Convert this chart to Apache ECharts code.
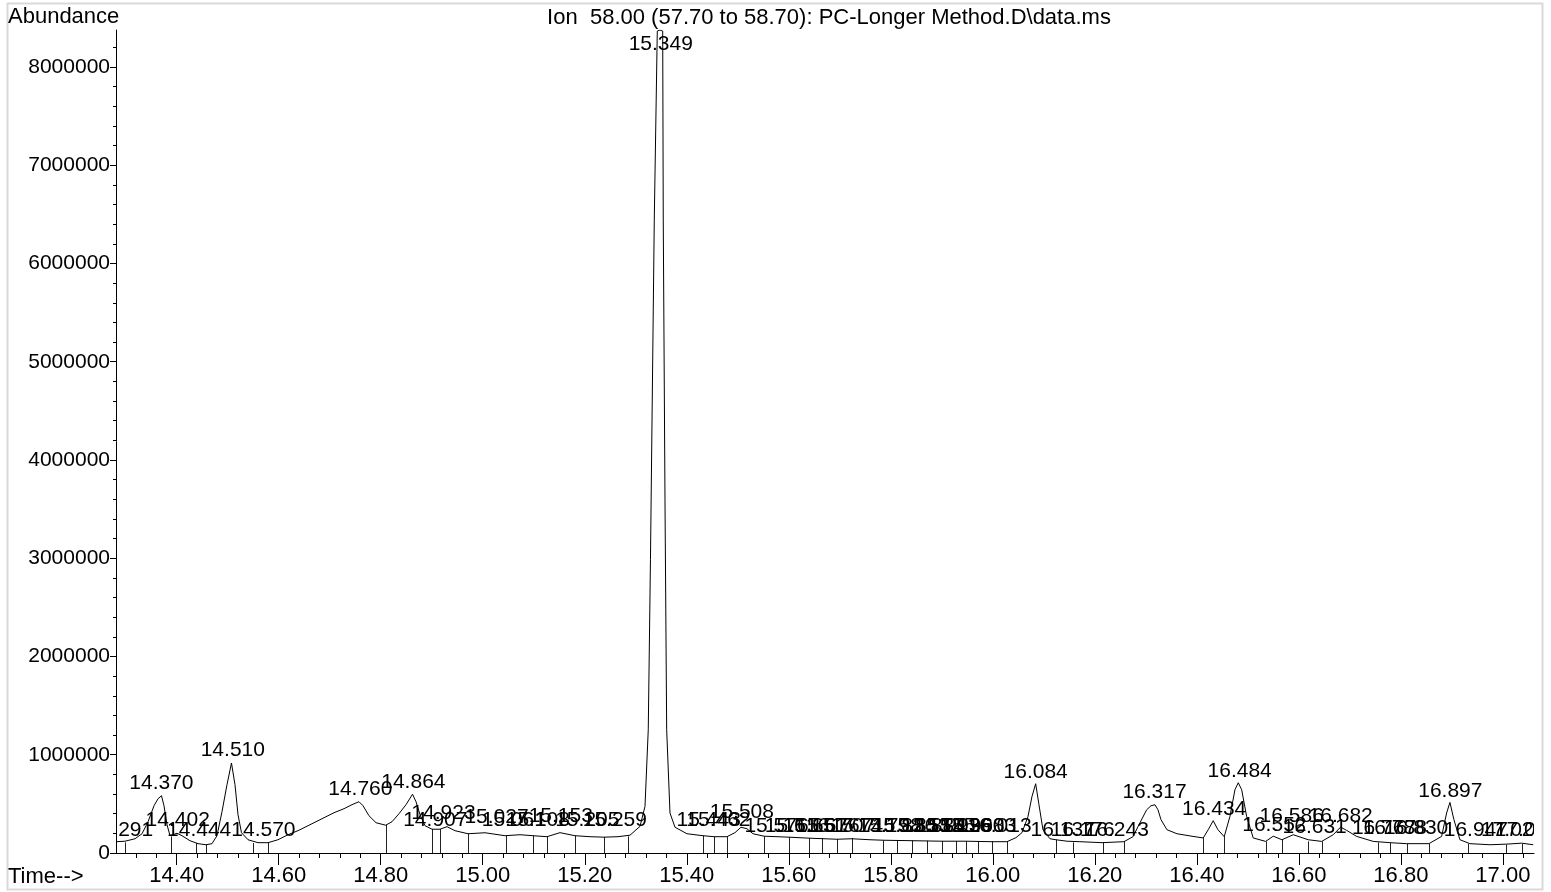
<!DOCTYPE html>
<html><head><meta charset="utf-8">
<script src="https://cdn.jsdelivr.net/npm/echarts@6/dist/echarts.min.js"></script>
<style>html,body{margin:0;padding:0;background:#fff}#c{width:1551px;height:892px}</style>
</head><body><div id="c"></div>
<script>
// ---- data ----
const traceTime = [14.2824,14.2987,14.3183,14.3320,14.3438,14.3555,14.3634,14.3702,14.3751,14.3810,14.3869,14.3908,14.4006,14.4104,14.4261,14.4418,14.4574,14.4692,14.4790,14.4888,14.4986,14.5074,14.5143,14.5202,14.5270,14.5398,14.5594,14.5790,14.5986,14.6182,14.6378,14.6614,14.6849,14.7084,14.7280,14.7437,14.7574,14.7653,14.7770,14.7908,14.8097,14.8221,14.8358,14.8495,14.8623,14.8692,14.8770,14.8868,14.9005,14.9162,14.9299,14.9456,14.9711,15.0044,15.0436,15.0730,15.0985,15.1260,15.1514,15.1808,15.2102,15.2377,15.2651,15.2887,15.3083,15.3181,15.3245,15.3288,15.3363,15.3422,15.3475,15.3528,15.3539,15.3573,15.3606,15.3671,15.3769,15.4004,15.4318,15.4533,15.4788,15.4945,15.5062,15.5180,15.5298,15.5514,15.5769,15.6004,15.6396,15.6945,15.7239,15.7592,15.7847,15.8416,15.9004,15.9474,15.9984,16.0277,16.0454,16.0571,16.0689,16.0767,16.0840,16.0905,16.0983,16.1120,16.1238,16.1453,16.1708,16.2140,16.2571,16.2748,16.2885,16.3016,16.3101,16.3179,16.3238,16.3297,16.3414,16.3610,16.3924,16.4125,16.4223,16.4321,16.4413,16.4537,16.4649,16.4747,16.4812,16.4879,16.4976,16.5106,16.5349,16.5498,16.5668,16.5890,16.6184,16.6447,16.6674,16.6819,16.6937,16.7133,16.7458,16.7785,16.8113,16.8550,16.8799,16.8897,16.8962,16.9040,16.9158,16.9354,16.9746,17.0059,17.0367,17.0594];
const traceAbundance = [115000,120000,145000,196000,318000,481000,552000,583000,481000,288000,176000,166000,201000,176000,125000,95000,84000,95000,176000,420000,695000,916000,695000,390000,207000,135000,105000,105000,135000,186000,227000,288000,349000,410000,451000,492000,522000,481000,379000,308000,283000,318000,400000,491000,598000,522000,390000,278000,242000,242000,268000,227000,196000,206000,176000,186000,176000,166000,207000,176000,166000,161000,166000,181000,271000,474000,1254000,2984000,6443000,8365000,8376000,8365000,6443000,3594000,1254000,407000,262000,196000,176000,166000,166000,207000,262000,247000,196000,171000,166000,161000,151000,140000,145000,135000,130000,125000,120000,120000,115000,115000,156000,207000,369000,573000,705000,491000,237000,145000,135000,120000,115000,105000,115000,166000,308000,440000,481000,491000,440000,339000,237000,196000,169000,153000,237000,329000,237000,166000,372000,644000,715000,644000,372000,153000,118000,171000,135000,186000,135000,118000,186000,264000,230000,169000,118000,105000,95000,95000,169000,407000,515000,339000,135000,95000,84000,90000,100000,84000];

const peakRT = ['14.291','14.370','14.402','14.444','14.510','14.570','14.760','14.864','14.907','14.923','15.027','15.061','15.108','15.153','15.205','15.259','15.349','15.443','15.462','15.508','15.576','15.616','15.651','15.676','15.707','15.745','15.798','15.826','15.853','15.884','15.913','15.936','15.960','15.983','16.013','16.084','16.137','16.176','16.243','16.317','16.434','16.484','16.552','16.586','16.631','16.682','16.767','16.788','16.830','16.897','16.947','17.020','17.047'];
const peakApex = [109000,583000,211000,109000,916000,109000,522000,590000,211000,282000,241000,203000,203000,251000,203000,203000,8376000,203000,203000,285000,150000,150000,150000,150000,150000,150000,150000,150000,150000,150000,150000,150000,150000,150000,150000,700000,109000,109000,109000,488000,318000,702000,160000,251000,135000,251000,125000,125000,125000,498000,109000,109000,109000];

const dropTime = [14.2987,14.3888,14.4378,14.4574,14.5502,14.5784,14.8097,14.8999,14.9162,14.9711,15.0450,15.0985,15.1260,15.1808,15.2377,15.2848,15.4312,15.4533,15.4794,15.5508,15.6004,15.6402,15.6645,15.6939,15.7233,15.7852,15.8127,15.8409,15.8703,15.9009,15.9278,15.9473,15.9715,15.9977,16.0277,16.1238,16.1577,16.2153,16.2571,16.4125,16.4537,16.5349,16.5668,16.6184,16.6447,16.7556,16.7785,16.8113,16.8550,16.9321,17.0059,17.0367];
const dropAbundance = [108000,169000,102000,85000,102000,102000,288000,244000,244000,196000,176000,176000,163000,176000,163000,169000,176000,163000,163000,169000,163000,153000,153000,142000,153000,128000,128000,128000,125000,122000,120000,120000,118000,118000,115000,135000,108000,108000,118000,153000,169000,118000,135000,118000,118000,108000,102000,95000,95000,95000,85000,92000];

const xTickLabels = ['14.40','14.60','14.80','15.00','15.20','15.40','15.60','15.80','16.00','16.20','16.40','16.60','16.80','17.00'];
const yTickLabels = ['0','1000000','2000000','3000000','4000000','5000000','6000000','7000000','8000000'];

const X_MIN = 14.281, X_MAX = 17.061, Y_MAX = 8376000;
const FONT = '"Liberation Sans", Arial, sans-serif';
const FS = 21;
const FS_HEAD = 22;

const xMajor = xTickLabels.map(Number);
const yMajor = yTickLabels.map(Number);
const xMinor = []; for (let k = 357; k <= 426; k++) xMinor.push(+(k * 0.04).toFixed(2));
const yMinor = []; for (let k = 0; k * 200000 < Y_MAX; k++) yMinor.push(k * 200000);

const chart = echarts.init(document.getElementById('c'), null, {renderer: 'canvas'});
const axisStyle = {color: '#000', width: 1};
const option = {
  animation: false,
  backgroundColor: '#fff',
  grid: {left: 116, right: 17, top: 30, bottom: 39, containLabel: false, outerBoundsMode: 'none'},
  xAxis: [{
    type: 'value', min: X_MIN, max: X_MAX, position: 'bottom',
    axisLine: {show: true, onZero: false, lineStyle: axisStyle},
    axisTick: {show: true, customValues: xMajor, length: 12, lineStyle: axisStyle},
    axisLabel: {customValues: xMajor, color: '#000', fontFamily: FONT, fontSize: FS_HEAD, margin: 12,
      formatter: v => xTickLabels[xMajor.findIndex(m => Math.abs(m - v) < 1e-6)] || ''},
    splitLine: {show: false}
  }, {
    type: 'value', min: X_MIN, max: X_MAX, position: 'bottom',
    axisLine: {show: false},
    axisTick: {show: true, customValues: xMinor, length: 5, lineStyle: axisStyle},
    axisLabel: {show: false},
    splitLine: {show: false}
  }],
  yAxis: [{
    type: 'value', min: 0, max: Y_MAX, position: 'left',
    axisLine: {show: true, onZero: false, lineStyle: axisStyle},
    axisTick: {show: true, customValues: yMajor, length: 6, lineStyle: axisStyle},
    axisLabel: {customValues: yMajor, color: '#000', fontFamily: FONT, fontSize: FS, margin: 6,
      formatter: v => yTickLabels[yMajor.indexOf(v)] || ''},
    splitLine: {show: false}
  }, {
    type: 'value', min: 0, max: Y_MAX, position: 'left',
    axisLine: {show: false},
    axisTick: {show: true, customValues: yMinor, length: 3, lineStyle: axisStyle},
    axisLabel: {show: false},
    splitLine: {show: false}
  }],
  graphic: [
    {type: 'rect', shape: {x: 7.5, y: 3.5, width: 1535, height: 886}, style: {fill: 'none', stroke: '#d9d9d9', lineWidth: 2}, z: -1},
    {type: 'text', x: 8, y: 17, style: {text: 'Abundance', font: FS_HEAD + 'px ' + FONT, fill: '#000', align: 'left', verticalAlign: 'middle'}},
    {type: 'text', x: 8, y: 877, style: {text: 'Time-->', font: FS_HEAD + 'px ' + FONT, fill: '#000', align: 'left', verticalAlign: 'middle'}},
    {type: 'text', x: 829, y: 18, style: {text: 'Ion  58.00 (57.70 to 58.70): PC-Longer Method.D\\data.ms', font: FS_HEAD + 'px ' + FONT, fill: '#000', align: 'center', verticalAlign: 'middle'}}
  ],
  series: [{
    type: 'line', xAxisIndex: 0, yAxisIndex: 0,
    data: traceTime.map((t, i) => [t, traceAbundance[i]]),
    symbol: 'none', showSymbol: false, smooth: false, clip: true,
    lineStyle: {color: '#000', width: 1}
  }, {
    type: 'custom', xAxisIndex: 0, yAxisIndex: 0, clip: true,
    data: dropTime.map((t, i) => [t, dropAbundance[i]]),
    encode: {x: 0, y: 1},
    renderItem: (params, api) => {
      const p0 = api.coord([api.value(0), 0]);
      const p1 = api.coord([api.value(0), api.value(1)]);
      const x = Math.round(p0[0]) + 0.5;
      return {type: 'line', shape: {x1: x, y1: p0[1], x2: x, y2: p1[1]}, style: {stroke: '#222', lineWidth: 1}};
    }
  }, {
    type: 'custom', xAxisIndex: 0, yAxisIndex: 0, clip: true,
    data: peakRT.map((s, i) => [Number(s), peakApex[i]]),
    encode: {x: 0, y: 1},
    renderItem: (params, api) => {
      const p = api.coord([api.value(0), api.value(1)]);
      const top = api.value(1) >= Y_MAX * 0.99;
      return {type: 'text', x: p[0], y: top ? p[1] + 14 : p[1] - 2,
        style: {text: peakRT[params.dataIndex], font: FS + 'px ' + FONT, fill: '#000', align: 'center', verticalAlign: top ? 'middle' : 'bottom'}};
    }
  }]
};
chart.setOption(option);
</script>
</body></html>
